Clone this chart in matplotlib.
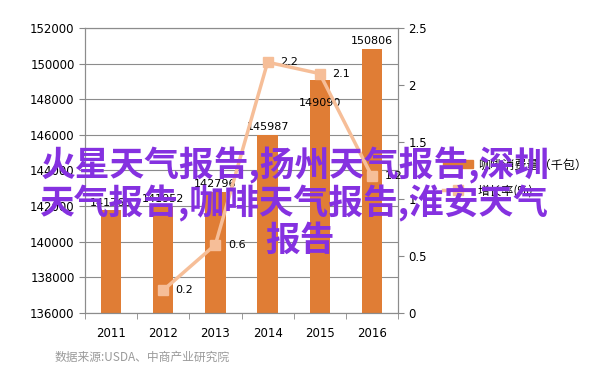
import matplotlib.pyplot as plt
import numpy as np
from matplotlib.lines import Line2D
from matplotlib.patches import Patch

plt.rcParams['font.family'] = ['DejaVu Sans', 'Noto Sans CJK SC']

years = ['2011', '2012', '2013', '2014', '2015', '2016']
consumption = [141765, 141952, 142796, 145987, 149090, 150806]
growth_years = ['2012', '2013', '2014', '2015', '2016']
growth = [0.2, 0.6, 2.2, 2.1, 1.2]

bar_color = '#E07D35'
line_color = '#F6BE98'
cjk = ['Noto Sans CJK SC', 'DejaVu Sans']

fig = plt.figure(figsize=(6.02, 3.84), dpi=100)
ax = fig.add_axes([85/602, 1-313/384, 313/602, 285/384])

x = np.arange(len(years))
ax.bar(x, [c - 136000 for c in consumption], bottom=136000, width=0.39,
       color=bar_color, zorder=2)
for xi, c in zip(x, consumption):
    # Excel pushed the 2015 label down below the line
    off = (0, -20) if years[xi] == '2015' else (0, 2)
    ax.annotate(str(c), (xi, c), xytext=off, textcoords='offset points',
                ha='center', va='bottom', fontsize=8, zorder=5)

ax.set_ylim(136000, 152000)
ax.set_yticks(np.arange(136000, 152001, 2000))
ax.set_xlim(-0.5, 5.5)
ax.set_xticks(x)
ax.set_xticklabels(years, fontsize=8.5)
ax.set_xticks(np.arange(-0.5, 6, 1), minor=True)
ax.tick_params(axis='x', which='major', length=0, pad=10)
ax.tick_params(axis='x', which='minor', length=4, color='#888888')
ax.tick_params(axis='y', labelsize=8.5, length=4, color='#888888')
ax.grid(axis='y', color='#8c8c8c', linewidth=0.8, zorder=0)
for s in ax.spines.values():
    s.set_color('#8c8c8c')

ax2 = ax.twinx()
gx = [years.index(y) for y in growth_years]
ax2.plot(gx, growth, color=line_color, linewidth=2.5, marker='s',
         markersize=7, zorder=4)
for xi, g in zip(gx, growth):
    ax2.annotate(str(g), (xi, g), xytext=(9, 0), textcoords='offset points',
                 ha='left', va='center', fontsize=8)
ax2.set_ylim(0, 2.5)
ax2.set_yticks([0, 0.5, 1, 1.5, 2, 2.5])
ax2.set_yticklabels(['0', '0.5', '1', '1.5', '2', '2.5'])
ax2.tick_params(axis='y', labelsize=8.5, length=4, color='#888888')
for s in ax2.spines.values():
    s.set_color('#8c8c8c')

handles = [Patch(color=bar_color),
           Line2D([0], [0], color=line_color, linewidth=2.5, marker='s', markersize=7)]
fig.legend(handles, ['咖啡消费量（千包）', '增长率(%)'], loc='center left',
           bbox_to_anchor=(432/602, 1-178/384), frameon=False,
           prop={'family': cjk, 'size': 8.7}, handlelength=2.5,
           handletextpad=0.4, labelspacing=1.1)

fig.text(55/602, 1-357/384, '数据来源:USDA、中商产业研究院', fontsize=8.5,
         color='#9a9a9a', family=cjk, va='center')

wm = '#8531E0'
fig.text(295/602, 1-165/384, '火星天气报告,扬州天气报告,深圳', fontsize=25,
         fontweight='bold', color=wm, family=cjk, ha='center', va='center', zorder=10)
fig.text(294/602, 1-203/384, '天气报告,咖啡天气报告,淮安天气', fontsize=25,
         fontweight='bold', color=wm, family=cjk, ha='center', va='center', zorder=10)
fig.text(300/602, 1-240/384, '报告', fontsize=25,
         fontweight='bold', color=wm, family=cjk, ha='center', va='center', zorder=10)

fig.savefig('out.png', dpi=100)
